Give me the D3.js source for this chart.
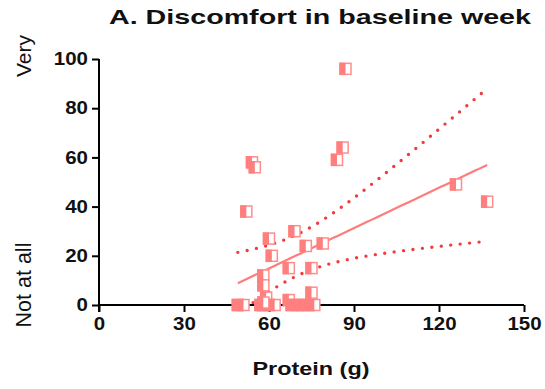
<!DOCTYPE html>
<html>
<head>
<meta charset="utf-8">
<script src="https://cdn.jsdelivr.net/npm/d3@7"></script>
<style>
body { margin: 0; background: #fff; }
text { font-family: "Liberation Sans", Arial, sans-serif; }
</style>
</head>
<body>
<svg id="chart" width="545" height="389"></svg>
<script>
var protein    = [87, 86, 84, 54, 55, 52, 126, 137, 60, 69, 61, 73, 79, 67, 75, 58, 58, 75, 59, 49, 51, 57, 58, 60, 62, 67, 68, 70, 72, 74, 76, 58];
var discomfort = [96, 64, 59, 58, 56, 38, 49, 42, 27, 30, 20, 24, 25, 15, 15, 12, 8, 5, 3, 0, 0, 0, 0, 0, 0, 2, 0, 0, 0, 0, 0, 1];
var xTicks = [0, 30, 60, 90, 120, 150];
var yTicks = [0, 20, 40, 60, 80, 100];

var svg = d3.select("#chart"),
    margin = {top: 59, left: 99, right: 21, bottom: 84},
    width = 545 - margin.left - margin.right,
    height = 389 - margin.top - margin.bottom;

var x = d3.scaleLinear().domain([0, 150]).range([0, width]);
var y = d3.scaleLinear().domain([0, 100]).range([height, 0]);

var g = svg.append("g").attr("transform", "translate(" + margin.left + "," + margin.top + ")");

// linear fit + 95% confidence band
var n = protein.length;
var mx = d3.mean(protein), my = d3.mean(discomfort);
var sxx = 0, sxy = 0;
for (var i = 0; i < n; i++) {
    sxx += (protein[i] - mx) * (protein[i] - mx);
    sxy += (protein[i] - mx) * (discomfort[i] - my);
}
var slope = sxy / sxx, icept = my - slope * mx;
var sse = 0;
for (var i = 0; i < n; i++) {
    var r = discomfort[i] - (icept + slope * protein[i]);
    sse += r * r;
}
var s = Math.sqrt(sse / (n - 2));
var tval = 2.042;
var xmin = d3.min(protein), xmax = d3.max(protein);
var band = d3.range(0, 61).map(function (k) {
    var xv = xmin + (xmax - xmin) * k / 60;
    var fit = icept + slope * xv;
    var se = s * Math.sqrt(1 / n + (xv - mx) * (xv - mx) / sxx);
    return {x: xv, fit: fit, lo: fit - tval * se, hi: fit + tval * se};
});

g.append("clipPath").attr("id", "clip")
    .append("rect").attr("x", 0).attr("y", -10).attr("width", width).attr("height", height + 10);

var dots = g.append("g").attr("clip-path", "url(#clip)");
["lo", "hi"].forEach(function (k) {
    dots.append("path")
        .datum(band)
        .attr("fill", "none")
        .attr("stroke", "#f23c3c")
        .attr("stroke-width", 3.4)
        .attr("stroke-linecap", "round")
        .attr("stroke-dasharray", "0 9.5")
        .attr("d", d3.line().x(function (d) { return x(d.x); }).y(function (d) { return y(d[k]); }));
});

g.append("path")
    .datum(band)
    .attr("fill", "none")
    .attr("stroke", "#ff7c7c")
    .attr("stroke-width", 2.2)
    .attr("d", d3.line().x(function (d) { return x(d.x); }).y(function (d) { return y(d.fit); }));

// axes
var xAxis = d3.axisBottom(x).tickValues(xTicks).tickSize(7).tickPadding(6);
var yAxis = d3.axisLeft(y).tickValues(yTicks).tickSize(7).tickPadding(4);

var gx = g.append("g").attr("transform", "translate(0," + height + ")").call(xAxis);
var gy = g.append("g").call(yAxis);
[gx, gy].forEach(function (a) {
    a.select(".domain").attr("stroke", "#000").attr("stroke-width", 2);
    a.selectAll(".tick line").attr("stroke", "#000").attr("stroke-width", 2);
    a.selectAll(".tick text").attr("fill", "#111").style("font-size", "17.5px").style("font-weight", "bold")
        .attr("textLength", function (d) { return String(d).length * 11.4; })
        .attr("lengthAdjust", "spacingAndGlyphs");
});
gx.select(".domain").attr("d", "M0,0H" + width);
gy.select(".domain").attr("d", "M0,0V" + (height + 7));

// markers
var pts = g.append("g").selectAll("g.pt")
    .data(protein.map(function (p, i) { return [p, discomfort[i]]; }))
    .join("g")
    .attr("class", "pt")
    .attr("transform", function (d) { return "translate(" + x(d[0]) + "," + y(d[1]) + ")"; });
pts.append("rect").attr("x", -5.5).attr("y", -5.5).attr("width", 11).attr("height", 11)
    .attr("fill", "#fff").attr("stroke", "#ff8d8d").attr("stroke-width", 1.5);
pts.append("rect").attr("x", -6.2).attr("y", -6.2).attr("width", 6.2).attr("height", 12.4)
    .attr("fill", "#ff7f7f");

// titles
svg.append("text").attr("x", 320).attr("y", 24).attr("text-anchor", "middle")
    .style("font-size", "20.5px").style("font-weight", "bold").attr("fill", "#111")
    .attr("textLength", 422).attr("lengthAdjust", "spacingAndGlyphs")
    .text("A. Discomfort in baseline week");
svg.append("text").attr("x", 311).attr("y", 375).attr("text-anchor", "middle")
    .style("font-size", "18px").style("font-weight", "bold").attr("fill", "#111")
    .attr("textLength", 117).attr("lengthAdjust", "spacingAndGlyphs")
    .text("Protein (g)");
svg.append("text").attr("transform", "translate(31,56) rotate(-90)").attr("text-anchor", "middle")
    .style("font-size", "21px").attr("fill", "#111").text("Very");
svg.append("text").attr("transform", "translate(31,285) rotate(-90)").attr("text-anchor", "middle")
    .style("font-size", "21.5px").attr("fill", "#111").text("Not at all");
</script>
</body>
</html>
